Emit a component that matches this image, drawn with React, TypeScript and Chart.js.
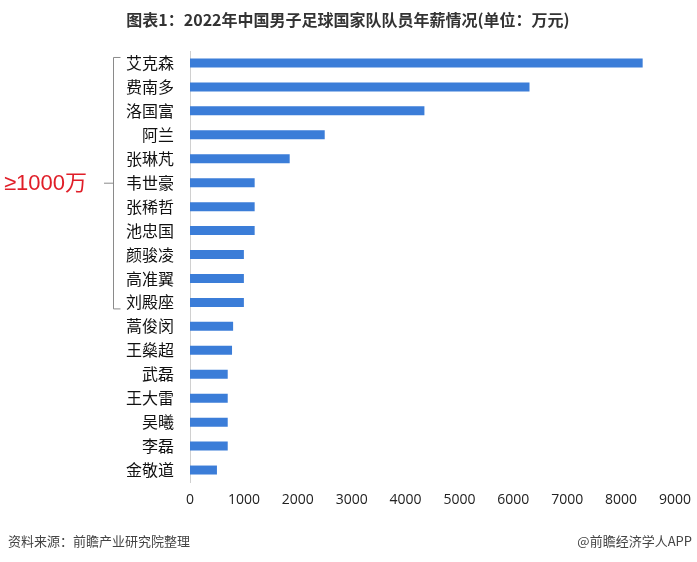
import React, { useEffect, useRef } from "react";
import { Chart, registerables } from "chart.js";

Chart.register(...registerables);

const players = [
  "艾克森", "费南多", "洛国富", "阿兰", "张琳芃", "韦世豪", "张稀哲", "池忠国", "颜骏凌",
  "高准翼", "刘殿座", "蒿俊闵", "王燊超", "武磊", "王大雷", "吴曦", "李磊", "金敬道",
];
const salaries = [8400, 6300, 4350, 2500, 1850, 1200, 1200, 1200, 1000, 1000, 1000, 800, 780, 700, 700, 700, 700, 500];
const titleText = "图表1：2022年中国男子足球国家队队员年薪情况(单位：万元)";
const sourceText = "资料来源：前瞻产业研究院整理";
const brandText = "@前瞻经济学人APP";
const groupLabel = "≥1000万";

const CJK = '"Noto Sans CJK SC", "Noto Sans", sans-serif';

const decorPlugin = {
  id: "decor",
  afterDraw(chart: any) {
    const ctx = chart.ctx as CanvasRenderingContext2D;
    const y = chart.scales.y;
    ctx.save();
    // title
    ctx.fillStyle = "#333";
    ctx.font = `bold 16px ${CJK}`;
    ctx.textAlign = "center";
    ctx.textBaseline = "middle";
    ctx.fillText(titleText, 348, 20);
    // footer
    ctx.font = `13px ${CJK}`;
    ctx.fillStyle = "#444";
    ctx.textAlign = "left";
    ctx.fillText(sourceText, 8, 541);
    ctx.textAlign = "right";
    ctx.fillText(brandText, 692, 541);
    // bracket
    const top = y.getPixelForValue(0) - 6;
    const bottom = y.getPixelForValue(10) + 6;
    const mid = (top + bottom) / 2;
    ctx.strokeStyle = "#8a8a8a";
    ctx.lineWidth = 1;
    ctx.beginPath();
    ctx.moveTo(120.5, top + 0.5);
    ctx.lineTo(113.5, top + 0.5);
    ctx.lineTo(113.5, bottom + 0.5);
    ctx.lineTo(120.5, bottom + 0.5);
    ctx.moveTo(104, mid + 0.5);
    ctx.lineTo(113.5, mid + 0.5);
    ctx.stroke();
    // group label
    ctx.fillStyle = "#e01e28";
    ctx.font = `22px "Liberation Sans", ${CJK}`;
    ctx.textAlign = "left";
    ctx.textBaseline = "middle";
    ctx.fillText(groupLabel, 4, mid + 1);
    ctx.restore();
  },
};

export default function App() {
  const ref = useRef<HTMLCanvasElement | null>(null);
  useEffect(() => {
    if (!ref.current) return;
    const chart = new Chart(ref.current, {
      type: "bar",
      data: {
        labels: players,
        datasets: [
          {
            data: salaries,
            backgroundColor: "#3b7dd8",
            barPercentage: 0.75,
            categoryPercentage: 0.5,
          },
        ],
      },
      options: {
        indexAxis: "y",
        responsive: false,
        animation: false,
        layout: { padding: { left: 100, top: 51, right: 22, bottom: 50 } },
        plugins: {
          legend: { display: false },
          tooltip: { enabled: false },
          title: { display: false },
        },
        scales: {
          y: {
            grid: { display: false },
            border: { display: true, color: "#d0d0d0" },
            ticks: {
              color: "#111",
              font: { family: CJK, size: 16 },
              padding: 8,
            },
            afterFit(scale: any) {
              scale.width = 90;
            },
          },
          x: {
            min: 0,
            max: 9000,
            grid: { display: false },
            border: { display: false },
            ticks: {
              stepSize: 1000,
              color: "#222",
              font: { family: '"Open Sans", "Liberation Sans", sans-serif', size: 14 },
              padding: 2,
              maxRotation: 0,
              callback: (v: any) => String(v),
            },
            afterFit(scale: any) {
              scale.height = 30;
            },
          },
        },
      },
      plugins: [decorPlugin],
    });
    return () => chart.destroy();
  }, []);
  return (
    <div style={{ position: "absolute", left: 0, top: 0, width: 697, height: 562, background: "#fff" }}>
      <canvas ref={ref} width={697} height={562} style={{ display: "block" }} />
    </div>
  );
}
